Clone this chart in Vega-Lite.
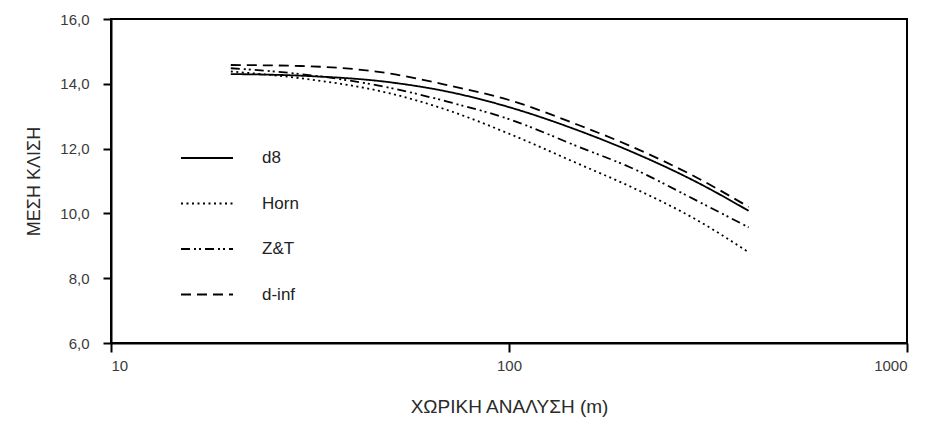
{
  "$schema": "https://vega.github.io/schema/vega-lite/v6.json",
  "autosize": "none",
  "padding": {"left": 111, "top": 19, "right": 21, "bottom": 84},
  "width": 796,
  "height": 324,
  "background": "white",
  "config": {
    "font": "Liberation Sans",
    "view": {"stroke": "black", "strokeWidth": 2},
    "axis": {"grid": false, "domainColor": "black", "domainWidth": 2, "tickColor": "black", "tickWidth": 2, "labelColor": "#3a3a3a", "titleColor": "#2a2a2a", "labelFont": "Liberation Sans", "titleFont": "Liberation Sans", "titleFontWeight": "normal"}
  },
  "data": {
    "values": [
      {"x": 20, "y": 14.30, "s": "d8"},
      {"x": 30, "y": 14.25, "s": "d8"},
      {"x": 50, "y": 14.05, "s": "d8"},
      {"x": 70, "y": 13.76, "s": "d8"},
      {"x": 100, "y": 13.28, "s": "d8"},
      {"x": 150, "y": 12.55, "s": "d8"},
      {"x": 200, "y": 11.94, "s": "d8"},
      {"x": 300, "y": 10.93, "s": "d8"},
      {"x": 400, "y": 10.08, "s": "d8"},
      {"x": 20, "y": 14.38, "s": "Horn"},
      {"x": 30, "y": 14.17, "s": "Horn"},
      {"x": 50, "y": 13.71, "s": "Horn"},
      {"x": 70, "y": 13.19, "s": "Horn"},
      {"x": 100, "y": 12.46, "s": "Horn"},
      {"x": 150, "y": 11.52, "s": "Horn"},
      {"x": 200, "y": 10.85, "s": "Horn"},
      {"x": 300, "y": 9.76, "s": "Horn"},
      {"x": 400, "y": 8.80, "s": "Horn"},
      {"x": 20, "y": 14.48, "s": "Z&T"},
      {"x": 30, "y": 14.30, "s": "Z&T"},
      {"x": 50, "y": 13.88, "s": "Z&T"},
      {"x": 70, "y": 13.45, "s": "Z&T"},
      {"x": 100, "y": 12.91, "s": "Z&T"},
      {"x": 150, "y": 12.05, "s": "Z&T"},
      {"x": 200, "y": 11.44, "s": "Z&T"},
      {"x": 300, "y": 10.36, "s": "Z&T"},
      {"x": 400, "y": 9.57, "s": "Z&T"},
      {"x": 20, "y": 14.58, "s": "d-inf"},
      {"x": 30, "y": 14.55, "s": "d-inf"},
      {"x": 50, "y": 14.32, "s": "d-inf"},
      {"x": 70, "y": 13.96, "s": "d-inf"},
      {"x": 100, "y": 13.50, "s": "d-inf"},
      {"x": 150, "y": 12.72, "s": "d-inf"},
      {"x": 200, "y": 12.10, "s": "d-inf"},
      {"x": 300, "y": 11.07, "s": "d-inf"},
      {"x": 400, "y": 10.20, "s": "d-inf"}
    ]
  },
  "mark": {"type": "line", "color": "black", "strokeWidth": 1.8, "interpolate": "monotone"},
  "encoding": {
    "x": {
      "field": "x", "type": "quantitative",
      "scale": {"type": "log", "domain": [10, 1000], "nice": false},
      "axis": {"values": [10, 100, 1000], "format": "d", "tickSize": 9, "labelPadding": 6, "labelFontSize": 15, "title": "ΧΩΡΙΚΗ ΑΝΑΛΥΣΗ (m)", "titleFontSize": 19, "titlePadding": 24}
    },
    "y": {
      "field": "y", "type": "quantitative",
      "scale": {"domain": [6, 16], "nice": false, "zero": false},
      "axis": {"values": [6, 8, 10, 12, 14, 16], "labelExpr": "replace(format(datum.value, '.1f'), '.', ',')", "tickSize": 8, "labelPadding": 14, "labelFontSize": 15, "title": "ΜΕΣΗ ΚΛΙΣΗ", "titleFontSize": 18, "titlePadding": 16}
    },
    "strokeDash": {
      "field": "s", "type": "nominal",
      "scale": {"domain": ["d8", "Horn", "Z&T", "d-inf"], "range": [[1, 0], [2, 3.5], [9, 4, 2, 3, 2, 4], [10, 6]]},
      "legend": {
        "orient": "none", "legendX": 69, "legendY": 112, "title": null, "padding": 0,
        "symbolType": "stroke", "symbolSize": 2704, "symbolStrokeColor": "black", "symbolStrokeWidth": 1.8,
        "labelFontSize": 17, "labelColor": "#222222", "labelOffset": 28, "rowPadding": 10.5
      }
    }
  }
}
